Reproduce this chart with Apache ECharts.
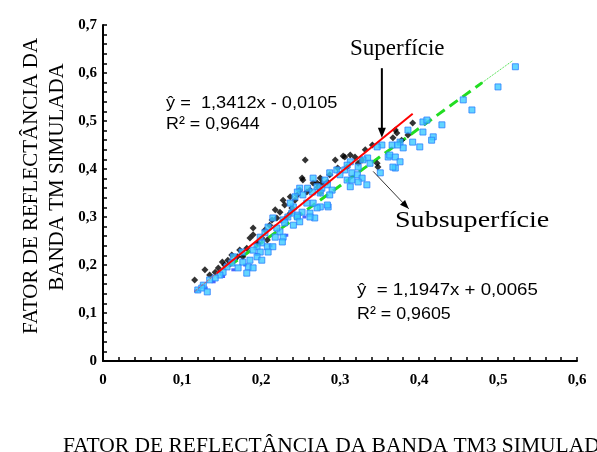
<!DOCTYPE html>
<html>
<head>
<meta charset="utf-8">
<script src="https://cdn.jsdelivr.net/npm/echarts@6/dist/echarts.min.js"></script>
<style>
html,body{margin:0;padding:0;background:#fff;}
#main{width:597px;height:452px;}
</style>
</head>
<body>
<div id="main"></div>
<script>
// ---- Data ----
var xTicks = [0, 0.1, 0.2, 0.3, 0.4, 0.5, 0.6];
var yTicks = [0, 0.1, 0.2, 0.3, 0.4, 0.5, 0.6, 0.7];

// Superfície (black diamonds)
var superficie = [
[0.116,0.169],[0.135,0.179],[0.142,0.185],[0.146,0.194],[0.154,0.200],[0.158,0.210],
[0.170,0.217],[0.177,0.217],[0.182,0.235],[0.190,0.277],[0.190,0.263],[0.186,0.256],
[0.208,0.252],[0.211,0.283],[0.220,0.298],[0.224,0.310],[0.218,0.315],[0.233,0.300],
[0.237,0.342],[0.243,0.335],[0.239,0.319],[0.249,0.356],[0.256,0.419],[0.253,0.377],
[0.258,0.352],[0.271,0.371],[0.277,0.371],[0.284,0.373],[0.275,0.350],[0.228,0.335],
[0.237,0.308],[0.266,0.371],[0.272,0.362],[0.275,0.381],[0.252,0.381],[0.306,0.425],
[0.313,0.429],[0.319,0.425],[0.328,0.419],[0.323,0.412],[0.309,0.404],[0.297,0.402],
[0.304,0.427],[0.347,0.412],[0.348,0.404],[0.370,0.481],[0.372,0.475],[0.392,0.496],
[0.386,0.471],[0.367,0.465],[0.378,0.460],[0.129,0.190],[0.151,0.206],[0.163,0.221],
[0.173,0.231],[0.201,0.256],[0.196,0.246],[0.205,0.273],[0.214,0.294],[0.230,0.325],
[0.246,0.346],[0.262,0.356],[0.287,0.388],[0.294,0.419],[0.332,0.440],[0.341,0.450]
];

// Subsuperfície (cyan squares)
var subsuperficie = [
[0.522,0.613],[0.500,0.571],[0.456,0.544],[0.467,0.523],[0.429,0.492],[0.405,0.498],
[0.410,0.502],[0.405,0.477],[0.418,0.467],[0.416,0.460],[0.401,0.446],[0.386,0.481],
[0.392,0.456],[0.376,0.456],[0.380,0.444],[0.366,0.450],[0.373,0.450],[0.361,0.425],
[0.363,0.429],[0.370,0.425],[0.370,0.402],[0.376,0.415],[0.353,0.450],[0.347,0.446],
[0.367,0.404],[0.351,0.392],[0.335,0.423],[0.338,0.412],[0.329,0.419],[0.323,0.404],
[0.313,0.415],[0.315,0.392],[0.322,0.388],[0.328,0.381],[0.306,0.398],[0.296,0.398],
[0.300,0.388],[0.309,0.377],[0.315,0.377],[0.323,0.373],[0.334,0.367],[0.313,0.363],
[0.287,0.392],[0.281,0.377],[0.284,0.367],[0.277,0.360],[0.290,0.356],[0.266,0.381],
[0.271,0.363],[0.259,0.360],[0.249,0.360],[0.275,0.350],[0.265,0.352],[0.253,0.346],
[0.246,0.352],[0.243,0.342],[0.285,0.321],[0.275,0.321],[0.271,0.319],[0.262,0.308],
[0.266,0.329],[0.258,0.329],[0.252,0.310],[0.246,0.304],[0.239,0.308],[0.234,0.300],
[0.228,0.294],[0.309,0.408],[0.287,0.346],[0.284,0.325],[0.268,0.298],[0.262,0.300],
[0.241,0.321],[0.237,0.329],[0.246,0.300],[0.249,0.290],[0.241,0.283],[0.230,0.288],
[0.224,0.269],[0.228,0.258],[0.227,0.248],[0.215,0.298],[0.209,0.279],[0.220,0.277],
[0.205,0.267],[0.199,0.258],[0.201,0.246],[0.208,0.238],[0.195,0.238],[0.190,0.231],
[0.218,0.258],[0.215,0.238],[0.209,0.227],[0.199,0.227],[0.195,0.217],[0.186,0.210],
[0.184,0.196],[0.177,0.206],[0.171,0.194],[0.165,0.217],[0.163,0.204],[0.157,0.196],
[0.152,0.185],[0.148,0.179],[0.142,0.173],[0.135,0.169],[0.127,0.158],[0.120,0.148],
[0.182,0.183],[0.190,0.194],[0.201,0.210],[0.176,0.227],[0.125,0.152],[0.132,0.144]
];

// small dark-blue marks among the subsurface points
var subBlue = [
[0.118,0.146],[0.130,0.152],[0.140,0.165],[0.152,0.176],[0.165,0.190],[0.180,0.200],
[0.195,0.222],[0.212,0.240],[0.232,0.262],[0.255,0.300]
];

// Trend lines (end points, consistent with printed equations)
var redSolid  = [[0.144,0.183],[0.392,0.515]];
var redDotted = [[0.116,0.145],[0.144,0.183]];
var greenDashed = [[0.160,0.198],[0.480,0.580]];
var greenDotted1 = [[0.118,0.147],[0.160,0.198]];
var greenDotted2 = [[0.480,0.580],[0.518,0.625]];

var eq1 = ['ŷ =  1,3412x - 0,0105', 'R² = 0,9644'];
var eq2 = ['ŷ  = 1,1947x + 0,0065', 'R² = 0,9605'];

function fmt(v){ return v === 0 ? '0' : v.toFixed(1).replace('.', ','); }

var chart = echarts.init(document.getElementById('main'));
var labelStyle = {fontFamily:'Liberation Serif', fontWeight:'bold', fontSize:15, color:'#000'};

chart.setOption({
  animation:false,
  backgroundColor:'#fff',
  grid:{left:103, right:20, top:25, bottom:91, containLabel:false},
  xAxis:{
    type:'value', min:xTicks[0], max:xTicks[xTicks.length-1], interval:0.1,
    axisLine:{show:true, lineStyle:{color:'#000', width:2}},
    axisTick:{show:true, inside:true, length:4, lineStyle:{color:'#000', width:1.5}},
    minorTick:{show:true, splitNumber:5, length:4, lineStyle:{color:'#000', width:1.5}},
    splitLine:{show:false},
    axisLabel:Object.assign({margin:12, formatter:fmt}, labelStyle)
  },
  yAxis:{
    type:'value', min:yTicks[0], max:yTicks[yTicks.length-1], interval:0.1,
    axisLine:{show:true, lineStyle:{color:'#000', width:2}},
    axisTick:{show:true, inside:true, length:4, lineStyle:{color:'#000', width:1.5}},
    minorTick:{show:true, splitNumber:5, length:4, lineStyle:{color:'#000', width:1.5}},
    splitLine:{show:false},
    axisLabel:Object.assign({margin:6, formatter:fmt}, labelStyle)
  },
  series:[
    {type:'line', data:greenDotted1, symbol:'none', lineStyle:{color:'#33dd33', width:1, type:'dotted'}, z:1},
    {type:'line', data:greenDotted2, symbol:'none', lineStyle:{color:'#33dd33', width:1, type:'dotted'}, z:1},
    {type:'line', data:greenDashed, symbol:'none', lineStyle:{color:'#22dd22', width:3, type:[10,6]}, z:1},
    {type:'scatter', data:superficie, symbol:'diamond', symbolSize:7, itemStyle:{color:'#000'}, z:2},
    {type:'scatter', data:subBlue, symbol:'rect', symbolSize:[4,3], itemStyle:{color:'#2040ff'}, z:2},
    {type:'scatter', data:subsuperficie, symbol:'rect', symbolSize:6, itemStyle:{color:'#3ccbff', borderColor:'#2a80ff', borderWidth:1}, z:3},
    {type:'line', data:redDotted, symbol:'none', lineStyle:{color:'#ff3030', width:1, type:'dotted'}, z:4},
    {type:'line', data:redSolid, symbol:'none', lineStyle:{color:'#ff0000', width:2}, z:4}
  ]
});

// annotations & arrows
function px(p){ return chart.convertToPixel({gridIndex:0}, p); }
var supTip = px([0.353, 0.465]);
var supTop = px([0.353, 0.610]);
var subStart = px([0.342, 0.395]);
var subEnd = px([0.387, 0.317]);
function head(tip, from, len, w){
  var dx = tip[0]-from[0], dy = tip[1]-from[1];
  var L = Math.sqrt(dx*dx+dy*dy); dx/=L; dy/=L;
  var bx = tip[0]-dx*len, by = tip[1]-dy*len;
  return [[tip[0],tip[1]],[bx-dy*w, by+dx*w],[bx+dy*w, by-dx*w]];
}
chart.setOption({
  graphic:[
    {type:'text', x:31, y:186, rotation:Math.PI/2, style:{text:'FATOR DE REFLECTÂNCIA DA', font:'21px "Liberation Serif"', fill:'#000', textAlign:'center', textVerticalAlign:'middle'}},
    {type:'text', x:57, y:177, rotation:Math.PI/2, style:{text:'BANDA TM SIMULADA', font:'21px "Liberation Serif"', fill:'#000', textAlign:'center', textVerticalAlign:'middle'}},
    {type:'text', x:63, y:446, style:{text:'FATOR DE REFLECTÂNCIA DA BANDA TM3 SIMULADA', font:'21.5px "Liberation Serif"', fill:'#000', textAlign:'left', textVerticalAlign:'middle'}},
    {type:'text', x:166, y:103, scaleX:1.07, style:{text:eq1[0], font:'17px "Liberation Sans"', fill:'#000', textVerticalAlign:'middle'}},
    {type:'text', x:166, y:124, scaleX:1.05, style:{text:eq1[1], font:'17px "Liberation Sans"', fill:'#000', textVerticalAlign:'middle'}},
    {type:'text', x:357, y:290, scaleX:1.1, style:{text:eq2[0], font:'17px "Liberation Sans"', fill:'#000', textVerticalAlign:'middle'}},
    {type:'text', x:357, y:314, scaleX:1.05, style:{text:eq2[1], font:'17px "Liberation Sans"', fill:'#000', textVerticalAlign:'middle'}},
    {type:'text', x:350, y:49, style:{text:'Superfície', font:'23px "Liberation Serif"', fill:'#000', textVerticalAlign:'middle'}},
    {type:'text', x:395, y:221, scaleX:1.22, style:{text:'Subsuperfície', font:'23px "Liberation Serif"', fill:'#000', textVerticalAlign:'middle'}},
    {type:'line', shape:{x1:supTop[0], y1:supTop[1], x2:supTip[0], y2:supTip[1]-8}, style:{stroke:'#000', lineWidth:2}, z:100},
    {type:'polygon', shape:{points:head(supTip, supTop, 10, 4)}, style:{fill:'#000'}, z:100},
    {type:'line', shape:{x1:subStart[0], y1:subStart[1], x2:subEnd[0], y2:subEnd[1]}, style:{stroke:'#333', lineWidth:1}, z:100},
    {type:'polygon', shape:{points:head(subEnd, subStart, 9, 3.5)}, style:{fill:'#000'}, z:100}
  ]
});
</script>
</body>
</html>
